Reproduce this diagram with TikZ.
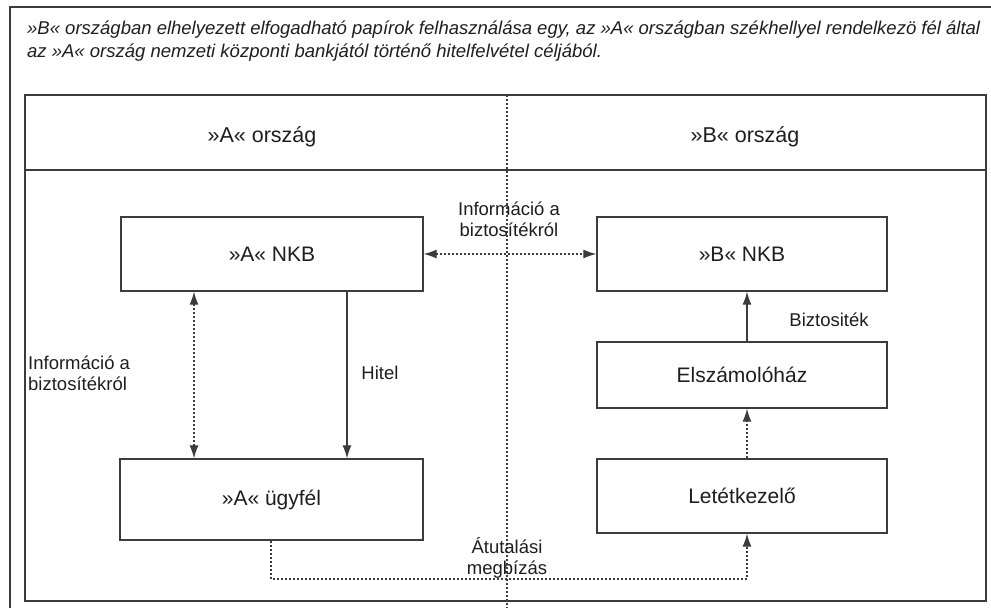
\documentclass[tikz,border=0pt]{standalone}
\usepackage{fontspec}
\setmainfont{Liberation Sans}
\usetikzlibrary{arrows.meta}
\definecolor{linec}{RGB}{60,60,60}
\definecolor{textc}{RGB}{30,30,30}
\begin{document}
\begin{tikzpicture}[x=1pt,y=-1pt,
  every node/.style={text=textc},
  box/.style={draw=linec, line width=1.3pt, fill=white, inner sep=0pt, font=\fontsize{21}{24}\selectfont},
  lbl/.style={font=\fontsize{18.5}{21}\selectfont, inner sep=0pt},
  conn/.style={draw=linec, line width=1.2pt},
  dots/.style={conn, dash pattern=on 2pt off 2pt},
  tip/.style={-{Latex[length=13pt,width=9pt]}},
  tips/.style={{Latex[length=13pt,width=9pt]}-{Latex[length=13pt,width=9pt]}}]
\useasboundingbox (0,0) rectangle (991,608);
% outer frame
\draw[linec, line width=1.3pt] (10,608) -- (10,7) -- (991,7);
% title
\node[anchor=base west, font=\itshape\fontsize{18.5}{23}\selectfont, inner sep=0pt] (t1) at (27,34)
  {»B« országban elhelyezett elfogadható papírok felhasználása egy, az »A« országban székhellyel rendelkezö fél által};
\node[anchor=base west, font=\itshape\fontsize{18.5}{23}\selectfont, inner sep=0pt] (t2) at (27,57)
  {az »A« ország nemzeti központi bankjától történő hitelfelvétel céljából.};
% inner frame
\draw[linec, line width=1.3pt] (25,95) rectangle (986,601);
\draw[linec, line width=1.3pt] (25,170) -- (986,170);
\coordinate (divtop) at (507,95);
\coordinate (divbot) at (507,608);
\draw[dots] (divtop) -- (divbot);
% headers
\node[box, draw=none, fill=none, font=\fontsize{21.5}{24}\selectfont] (hA) at (262,137) {»A« ország};
\node[box, draw=none, fill=none, font=\fontsize{21.5}{24}\selectfont] (hB) at (745,137) {»B« ország};
% boxes
\node[box, minimum width=302pt, minimum height=74pt] (ankb) at (272,254) {»A« NKB};
\node[box, minimum width=290pt, minimum height=74pt] (bnkb) at (742,254) {»B« NKB};
\node[box, minimum width=290pt, minimum height=66pt] (elsz) at (742,375) {Elszámolóház};
\node[box, minimum width=290pt, minimum height=74pt] (let) at (742,496) {Letétkezelő};
\node[box, minimum width=303pt, minimum height=81pt] (auf) at (271.5,499.5) {»A« ügyfél};
% helper coordinates
\coordinate (xl) at (194,0);
\coordinate (xh) at (347,0);
\coordinate (xr) at (747,0);
\coordinate (xd) at (271,0);
\coordinate (yb) at (0,579);
% connectors
\draw[dots, tips] (ankb.east) -- (bnkb.west);
\draw[dots, tips] (xl |- ankb.south) -- (xl |- auf.north);
\draw[conn, tip] (xh |- ankb.south) -- (xh |- auf.north);
\draw[conn, tip] (xr |- elsz.north) -- (xr |- bnkb.south);
\draw[dots, tip] (xr |- let.north) -- (xr |- elsz.south);
\draw[dots, tip] (xd |- auf.south) -- (xd |- yb) -- (xr |- yb) -- (xr |- let.south);
% labels
\node[lbl, align=center] (l1) at (509,219) {Információ a\\biztosítékról};
\node[lbl, align=left, anchor=west] (l2) at (28,373) {Információ a\\biztosítékról};
\node[lbl] (l3) at (380,373) {Hitel};
\node[lbl] (l4) at (829,320) {Biztositék};
\node[lbl, align=center] (l5) at (507,558) {Átutalási\\megbízás};
\end{tikzpicture}
\end{document}
